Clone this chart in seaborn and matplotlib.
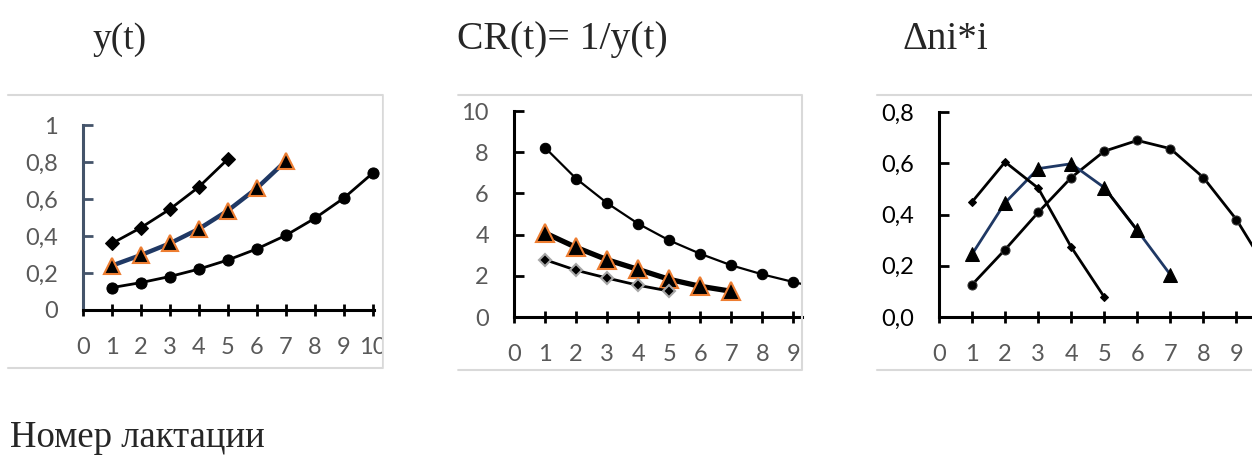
import seaborn as sns
import matplotlib.pyplot as plt
from matplotlib.lines import Line2D
from matplotlib.patches import Rectangle

# lactation number
x5 = [1, 2, 3, 4, 5]
x7 = [1, 2, 3, 4, 5, 6, 7]
x10 = [1, 2, 3, 4, 5, 6, 7, 8, 9, 10]

# panel 1: y(t)
y_diam = [0.36, 0.445, 0.545, 0.665, 0.815]
y_tri = [0.24, 0.297, 0.36, 0.438, 0.537, 0.658, 0.805]
y_circ = [0.121, 0.148, 0.181, 0.221, 0.27, 0.33, 0.403, 0.495, 0.604, 0.739]

# panel 2: CR(t) = 1/y(t)
cr_circ = [8.22, 6.72, 5.53, 4.53, 3.72, 3.07, 2.51, 2.07, 1.70, 1.35]
cr_tri = [4.08, 3.38, 2.78, 2.31, 1.83, 1.49, 1.25]
cr_diam = [2.78, 2.27, 1.89, 1.54, 1.26]

# panel 3: dni*i
d_diam = [0.449, 0.605, 0.503, 0.273, 0.078]
d_tri = [0.245, 0.446, 0.579, 0.598, 0.505, 0.338, 0.165]
d_circ = [0.126, 0.263, 0.408, 0.544, 0.647, 0.689, 0.657, 0.544, 0.38, 0.17]

ticks_p1 = [0, 0.2, 0.4, 0.6, 0.8, 1]
labels_p1 = ['0', '0,2', '0,4', '0,6', '0,8', '1']
ticks_p2 = [0, 2, 4, 6, 8, 10]
ticks_p3 = [0, 0.2, 0.4, 0.6, 0.8]
labels_p3 = ['0,0', '0,2', '0,4', '0,6', '0,8']

sns.set_style('white')
plt.rcParams['font.family'] = ['Lato', 'DejaVu Sans']

W, H = 1252, 455
NAVY = '#1F3864'
ORANGE = '#ED7D31'
GREY = '#595959'

fig = plt.figure(figsize=(W / 100, H / 100), dpi=100)


def box(l, t, r, b):
    return [l / W, 1 - b / H, (r - l) / W, (b - t) / H]


def frame(l, t, r, b):
    xs = [r / W, l / W, l / W, r / W]
    ys = [1 - t / H, 1 - t / H, 1 - b / H, 1 - b / H]
    fig.add_artist(Line2D(xs, ys, color='#D9D9D9', lw=1.5, transform=fig.transFigure))


def style(ax, xmax, xlast, yticks, ylabels, ylim, ycolor, lcolor):
    ax.set_xlim(0, xmax)
    ax.set_ylim(*ylim)
    ax.set_xticks(range(0, xlast + 1))
    ax.set_xticklabels([str(i) for i in range(0, xlast + 1)])
    ax.set_yticks(yticks)
    ax.set_yticklabels(ylabels)
    for s in ['top', 'right']:
        ax.spines[s].set_visible(False)
    ax.spines['left'].set_color(lcolor)
    ax.spines['left'].set_linewidth(2.2)
    ax.spines['bottom'].set_color('black')
    ax.spines['bottom'].set_linewidth(2.2)
    ax.tick_params(axis='x', bottom=True, direction='inout', length=9, width=2,
                   color='black', labelsize=17, labelcolor=GREY, pad=15)
    ax.tick_params(axis='y', left=True, direction='in', length=7, width=2,
                   color=lcolor, labelsize=17, labelcolor=ycolor, pad=18)
    ax.set_xlabel('')
    ax.set_ylabel('')
    ax.patch.set_alpha(0)


# panel 1
frame(383, 95, 8, 368)
ax1 = fig.add_axes(box(83, 125, 374, 310))
sns.lineplot(x=x10, y=y_circ, ax=ax1, color='black', lw=2, marker='o', ms=8,
             markeredgecolor='black', legend=False, clip_on=False)
sns.lineplot(x=x7, y=y_tri, ax=ax1, color=NAVY, lw=3.2, marker='^', ms=12,
             markerfacecolor='black', markeredgecolor=ORANGE, markeredgewidth=1.5,
             legend=False, clip_on=False)
sns.lineplot(x=x5, y=y_diam, ax=ax1, color='black', lw=2, marker='D', ms=7,
             markeredgecolor='black', legend=False, clip_on=False)
style(ax1, 10.05, 10, ticks_p1, labels_p1, (0, 1), GREY, '#44546A')

# panel 2
frame(802, 95, 458, 370)
ax2 = fig.add_axes(box(514, 111, 802, 317))
sns.lineplot(x=x10, y=cr_circ, ax=ax2, color='black', lw=1.6, marker='o', ms=7.5,
             markeredgecolor='black', legend=False)
sns.lineplot(x=x7, y=cr_tri, ax=ax2, color='black', lw=3.8, marker='^', ms=13,
             markerfacecolor='black', markeredgecolor=ORANGE, markeredgewidth=1.5,
             legend=False)
sns.lineplot(x=x5, y=cr_diam, ax=ax2, color='black', lw=2, marker='D', ms=6.5,
             markerfacecolor='black', markeredgecolor='#A6A6A6', markeredgewidth=1.5,
             legend=False)
style(ax2, 9.28, 9, ticks_p2, [str(t) for t in ticks_p2], (0, 10), GREY, 'black')

# panel 3
frame(1260, 95, 877, 370)
ax3 = fig.add_axes(box(939, 112, 1252, 317))
sns.lineplot(x=x10, y=d_circ, ax=ax3, color='black', lw=2, marker='o', ms=6.5,
             markeredgecolor='#303030', legend=False)
sns.lineplot(x=x7, y=d_tri, ax=ax3, color=NAVY, lw=2, marker='^', ms=10,
             markerfacecolor='black', markeredgecolor='black', legend=False)
sns.lineplot(x=x7[4:6], y=d_tri[4:6], ax=ax3, color='black', lw=2, legend=False)
sns.lineplot(x=x5, y=d_diam, ax=ax3, color='black', lw=2, marker='D', ms=4.5,
             markeredgecolor='black', legend=False)
style(ax3, 9.47, 9, ticks_p3, labels_p3, (0, 0.8), 'black', 'black')

# white mask that cuts the first chart at its frame
fig.add_artist(Rectangle((384 / W, 0), (456 - 384) / W, 1, color='white',
                         transform=fig.transFigure, zorder=10))

# titles
serif = ['Liberation Serif', 'DejaVu Serif']
fig.text(93 / W, 1 - 49 / H, 'y(t)', family=serif, fontsize=27, va='baseline')
fig.text(457 / W, 1 - 49 / H, 'CR(t)= 1/y(t)', family=serif, fontsize=28.5, va='baseline')
fig.text(903 / W, 1 - 49 / H, '\u0394ni*i', family=serif, fontsize=28, va='baseline')
fig.text(10 / W, 1 - 447 / H, 'Номер лактации', family=serif, fontsize=26.5, va='baseline')

fig.savefig('out.png', dpi=100)
